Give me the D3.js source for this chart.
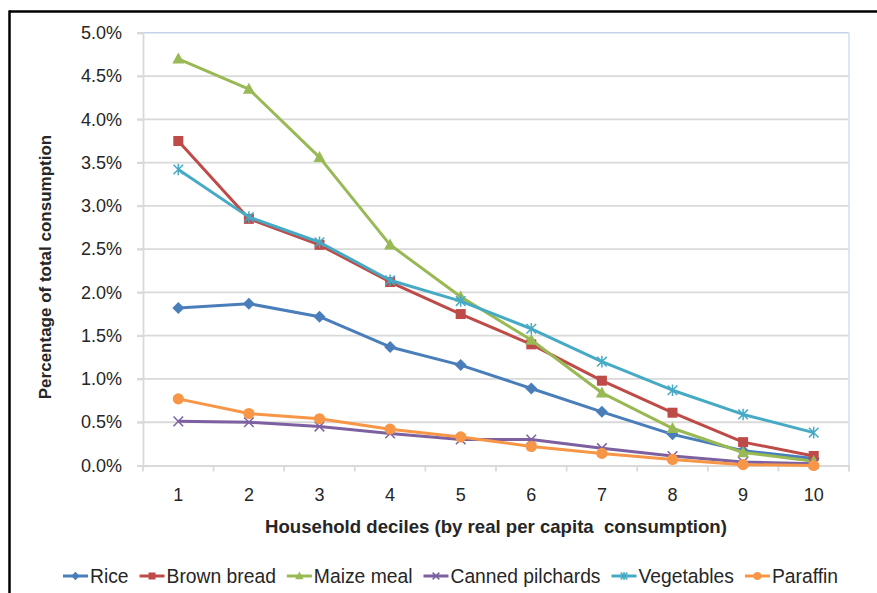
<!DOCTYPE html>
<html>
<head>
<meta charset="utf-8">
<script src="https://cdn.jsdelivr.net/npm/d3@7"></script>
<style>
  html, body { margin: 0; padding: 0; background: #fff; }
  svg { display: block; }
  text { font-family: "Liberation Sans", Arial, sans-serif; fill: #262626; }
</style>
</head>
<body>
<svg id="chart" width="877" height="593"></svg>
<script>
// ---- data ----
const deciles = ["1", "2", "3", "4", "5", "6", "7", "8", "9", "10"];
const yTicks = [0, 0.5, 1.0, 1.5, 2.0, 2.5, 3.0, 3.5, 4.0, 4.5, 5.0];
const seriesNames = ["Rice", "Brown bread", "Maize meal", "Canned pilchards", "Vegetables", "Paraffin"];
const rice            = [1.82, 1.87, 1.72, 1.37, 1.16, 0.89, 0.62, 0.36, 0.17, 0.08];
const brownBread      = [3.75, 2.85, 2.55, 2.12, 1.75, 1.40, 0.98, 0.61, 0.27, 0.11];
const maizeMeal       = [4.70, 4.35, 3.56, 2.55, 1.95, 1.45, 0.84, 0.43, 0.15, 0.05];
const cannedPilchards = [0.51, 0.50, 0.45, 0.37, 0.30, 0.30, 0.20, 0.11, 0.04, 0.02];
const vegetables      = [3.42, 2.87, 2.58, 2.14, 1.90, 1.58, 1.20, 0.87, 0.59, 0.38];
const paraffin        = [0.77, 0.60, 0.54, 0.42, 0.33, 0.22, 0.14, 0.07, 0.01, 0.00];
const xTitle = "Household deciles (by real per capita  consumption)";
const yTitle = "Percentage of total consumption";

// ---- styles ----
const colors  = ["#4A7EBB", "#BE4B48", "#98B954", "#7D60A0", "#46AAC5", "#F79646"];
const markers = ["diamond", "square", "triangle", "x", "star", "circle"];
const allValues = [rice, brownBread, maizeMeal, cannedPilchards, vegetables, paraffin];
const series = seriesNames.map((n, i) => ({ name: n, values: allValues[i], color: colors[i], marker: markers[i] }));

const svg = d3.select("#chart");
const plot = { left: 143, right: 849, top: 32.8, bottom: 465.5 };

const x = d3.scaleBand().domain(deciles).range([plot.left, plot.right]);
const y = d3.scaleLinear().domain([0, 5]).range([plot.bottom, plot.top]);
const cx = d => x(d) + x.bandwidth() / 2;

// frame
svg.append("line").attr("x1", 9).attr("x2", 877).attr("y1", 11.5).attr("y2", 11.5)
  .attr("stroke", "#000").attr("stroke-width", 2.5);
svg.append("line").attr("x1", 9.5).attr("x2", 9.5).attr("y1", 10.5).attr("y2", 593)
  .attr("stroke", "#000").attr("stroke-width", 2.5);

// gridlines
const grid = svg.append("g");
yTicks.filter(t => t > 0 && t < 5).forEach(t => {
  grid.append("line").attr("x1", plot.left - 6).attr("x2", plot.right)
    .attr("y1", y(t)).attr("y2", y(t)).attr("stroke", "#d9d9d9").attr("stroke-width", 1.8);
});
// plot-area border (top & right) light blue
grid.append("line").attr("x1", plot.left - 6).attr("x2", plot.right).attr("y1", y(5)).attr("y2", y(5))
  .attr("stroke", "#c3d3e8").attr("stroke-width", 1.5);
grid.append("line").attr("x1", plot.right).attr("x2", plot.right).attr("y1", y(5)).attr("y2", plot.bottom)
  .attr("stroke", "#d5e0ee").attr("stroke-width", 1.5);

// y axis
const yAxis = d3.axisLeft(y).tickValues(yTicks).tickFormat(d => d.toFixed(1) + "%").tickSize(6).tickPadding(15);
const gy = svg.append("g").attr("transform", `translate(${plot.left},0)`).call(yAxis);
gy.select(".domain").attr("stroke", "#d9d9d9").attr("stroke-width", 1.8);
gy.selectAll(".tick line").attr("stroke", "#d9d9d9").attr("stroke-width", 1.8);
gy.selectAll(".tick text").attr("font-size", 18).attr("fill", "#262626")
  .attr("font-family", "Liberation Sans, Arial, sans-serif");

// x axis
const xAxis = d3.axisBottom(x).tickSize(0).tickPadding(0);
const gx = svg.append("g").attr("transform", `translate(0,${plot.bottom})`).call(xAxis);
gx.select(".domain").attr("stroke", "#d9d9d9").attr("stroke-width", 1.8);
gx.selectAll(".tick text").attr("font-size", 18).attr("fill", "#262626").attr("dy", 0)
  .attr("y", 501 - plot.bottom).attr("font-family", "Liberation Sans, Arial, sans-serif");
// boundary tick marks
const bounds = deciles.map(d => x(d)).concat([x(deciles[deciles.length - 1]) + x.bandwidth()]);
gx.selectAll(".btick").data(bounds).join("line").attr("class", "btick")
  .attr("x1", d => d).attr("x2", d => d).attr("y1", 0).attr("y2", 6)
  .attr("stroke", "#d9d9d9").attr("stroke-width", 1.8);

// axis titles
svg.append("text").attr("x", (plot.left + plot.right) / 2).attr("y", 533)
  .attr("text-anchor", "middle").attr("font-size", 18.6).attr("font-weight", "bold")
  .style("white-space", "pre").attr("fill", "#000").text(xTitle);
svg.append("text").attr("transform", "translate(51,267) rotate(-90)")
  .attr("text-anchor", "middle").attr("font-size", 17).attr("font-weight", "bold")
  .attr("fill", "#000").text(yTitle);

// marker drawing
function drawMarker(g, type, color, k) {
  switch (type) {
    case "diamond":
      g.append("path").attr("d", `M0,${-k * 6}L${k * 6},0L0,${k * 6}L${-k * 6},0Z`).attr("fill", color);
      break;
    case "square":
      g.append("rect").attr("x", -5 * k).attr("y", -5 * k).attr("width", 10 * k).attr("height", 10 * k).attr("fill", color);
      break;
    case "triangle":
      g.append("path").attr("d", `M0,${-6.3 * k}L${6 * k},${4.7 * k}L${-6 * k},${4.7 * k}Z`).attr("fill", color);
      break;
    case "x":
      g.append("path").attr("d", `M${-4.8 * k},${-4.8 * k}L${4.8 * k},${4.8 * k}M${4.8 * k},${-4.8 * k}L${-4.8 * k},${4.8 * k}`)
        .attr("stroke", color).attr("stroke-width", 1.5).attr("fill", "none");
      break;
    case "star":
      g.append("path").attr("d", `M${-4.8 * k},${-4.8 * k}L${4.8 * k},${4.8 * k}M${4.8 * k},${-4.8 * k}L${-4.8 * k},${4.8 * k}M0,${-5.8 * k}L0,${5.8 * k}`)
        .attr("stroke", color).attr("stroke-width", 1.5).attr("fill", "none");
      break;
    case "circle":
      g.append("circle").attr("r", 5.6 * k).attr("fill", color);
      break;
  }
}

// lines + markers
const line = d3.line().x((v, i) => cx(deciles[i])).y(v => y(v));
series.forEach(s => {
  const g = svg.append("g");
  g.append("path").attr("d", line(s.values)).attr("fill", "none")
    .attr("stroke", s.color).attr("stroke-width", 3).attr("stroke-linejoin", "round");
  s.values.forEach((v, i) => {
    const mg = g.append("g").attr("transform", `translate(${cx(deciles[i])},${y(v)})`);
    drawMarker(mg, s.marker, s.color, 1);
  });
});

// legend
const legend = svg.append("g");
const legY = 576;
let cursor = 0;
series.forEach(s => {
  const it = legend.append("g");
  it.append("line").attr("x1", 0).attr("x2", 25).attr("y1", 0).attr("y2", 0)
    .attr("stroke", s.color).attr("stroke-width", 3);
  const mg = it.append("g").attr("transform", "translate(12.5,0)");
  drawMarker(mg, s.marker, s.color, 0.7);
  const t = it.append("text").attr("x", 27).attr("y", 7).attr("font-size", 19.3).attr("fill", "#262626").text(s.name);
  const w = 27 + t.node().getComputedTextLength();
  it.attr("transform", `translate(${cursor},${legY})`);
  cursor += w + 11;
});
const total = cursor - 11;
legend.attr("transform", `translate(${450.5 - total / 2},0)`);
</script>
</body>
</html>
